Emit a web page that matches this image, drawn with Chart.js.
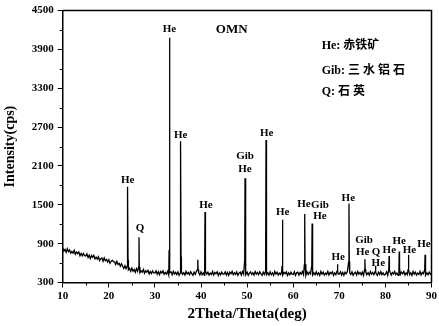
<!DOCTYPE html>
<html><head><meta charset="utf-8">
<script src="https://cdn.jsdelivr.net/npm/chart.js@4/dist/chart.umd.min.js"></script>
<style>html,body{margin:0;padding:0;background:#fff;overflow:hidden}</style>
</head><body>
<canvas id="c" width="439" height="326" style="width:439px;height:326px;display:block"></canvas>
<script>
// ---- data ----
const baseStart = 10, baseStep = 0.25;
const baseIntensity = [
835,785,811,766,822,777,803,753,779,754,795,735,771,746,772,712,748,713,749,714,
710,741,686,722,672,718,689,719,665,690,661,697,637,668,678,629,680,635,656,616,
652,597,627,643,623,618,578,626,579,595,552,588,550,516,558,515,552,495,518,475,
522,474,501,458,515,472,499,452,480,458,501,444,482,460,488,431,470,439,478,447,
446,480,429,468,422,471,445,479,428,457,431,471,415,450,464,419,473,433,457,422,
461,411,446,466,426,451,416,471,431,456,421,466,436,411,461,426,471,421,451,416,
465,420,450,410,470,430,460,415,445,425,470,415,455,435,465,410,450,420,460,430,
430,465,415,455,410,460,435,470,420,450,425,465,410,445,460,415,470,430,455,420,
460,410,445,465,425,450,415,470,430,455,420,465,435,410,460,425,470,420,450,415,
465,420,450,410,470,430,460,415,445,425,470,415,455,435,465,410,450,420,460,430,
425,465,410,450,460,415,455,430,470,420,445,410,465,425,460,435,470,415,450,420,
465,420,450,410,470,430,460,415,445,425,470,415,455,435,465,410,450,420,460,430,
430,465,415,455,410,460,435,470,420,450,425,465,410,445,460,415,470,430,455,420,
460,410,445,465,425,450,415,470,430,455,420,465,435,410,460,425,470,420,450,415,
425,465,410,450,460,415,455,430,470,420,445,410,465,425,460,435,470,415,450,420,
465,420,450,410,470,430,460,415,445,425,470,415,455,435,465,410,450,420,460,430,
440];
const peakTheta     = [24.1, 26.55, 33.15, 35.6, 39.3, 40.87, 49.55, 54.1, 57.65, 62.5, 64.1, 69.6, 72.1, 75.55, 77.85, 80.8, 83.0, 85.0, 88.6];
const peakIntensity = [1780, 1000, 4080, 2480, 650, 1390, 1910, 2500, 1270, 1360, 1210, 580, 1520, 660, 560, 710, 780, 730, 730];
const peakShoulder  = [650, 540, 800, 700, 500, 580, 650, 720, 560, 580, 560, 480, 620, 500, 470, 500, 520, 500, 500];

const xTickValues = [10, 20, 30, 40, 50, 60, 70, 80, 90];
const yTickValues = [300, 900, 1500, 2100, 2700, 3300, 3900, 4500];
const xMinorValues = [15, 25, 35, 45, 55, 65, 75, 85];
const yMinorValues = [600, 1200, 1800, 2400, 3000, 3600, 4200];

const labelText      = ["He","Q","He","He","He","Gib","He","He","He","He","Gib","He","He","He","Gib","He","Q","He","He","He","He","He"];
const labelTheta     = [24.1, 26.77, 33.15, 35.6, 41.08, 49.55, 49.55, 54.25, 57.7, 62.35, 65.8, 65.8, 71.95, 69.78, 75.36, 75.08, 77.96, 78.46, 80.85, 83.0, 85.2, 88.37];
const labelIntensity = [1880, 1132, 4206, 2578, 1494, 2247, 2053, 2603, 1392, 1509, 1499, 1331, 1610, 685, 949, 770, 770, 602, 796, 938, 796, 888];

const sampleName = "OMN";
const sampleTheta = 46.66, sampleIntensity = 4206;

const legendLines = ["He: 赤铁矿", "Gib: 三 水 铝 石", "Q: 石 英"];
const legendTheta = 66.18;
const legendIntensity = [3953, 3571, 3240];

// ---- build table ----
const pts = [];
for (let i = 0; i < baseIntensity.length; i++) {
  const x = baseStart + i * baseStep;
  if (peakTheta.some(c => Math.abs(x - c) < 0.1)) continue;
  pts.push({x: x, y: baseIntensity[i]});
}
peakTheta.forEach((c, i) => {
  pts.push({x: c - 0.07, y: peakShoulder[i]});
  pts.push({x: c, y: peakIntensity[i]});
  pts.push({x: c + 0.07, y: peakShoulder[i]});
});
pts.sort((a, b) => a.x - b.x);

const SERIF = '"Liberation Serif", "Times New Roman", "Noto Sans CJK SC", serif';
const tickFont = {family: SERIF, size: 11, weight: 'bold'};

const decor = {
  id: 'decor',
  afterDraw(chart) {
    const ctx = chart.ctx, a = chart.chartArea, xs = chart.scales.x, ys = chart.scales.y;
    ctx.save();
    ctx.strokeStyle = '#000'; ctx.lineWidth = 1.5;
    ctx.beginPath();
    ctx.moveTo(a.left, a.top); ctx.lineTo(a.right, a.top); ctx.lineTo(a.right, a.bottom);
    ctx.stroke();
    ctx.lineWidth = 1;
    ctx.beginPath();
    xMinorValues.forEach(v => { const px = Math.round(xs.getPixelForValue(v)) + 0.5; ctx.moveTo(px, a.bottom); ctx.lineTo(px, a.bottom + 3); });
    yMinorValues.forEach(v => { const py = Math.round(ys.getPixelForValue(v)) + 0.5; ctx.moveTo(a.left, py); ctx.lineTo(a.left - 3, py); });
    ctx.stroke();
    ctx.fillStyle = '#000';
    ctx.textAlign = 'center'; ctx.textBaseline = 'middle';
    ctx.font = 'bold 11px ' + SERIF;
    labelText.forEach((t, i) => ctx.fillText(t, xs.getPixelForValue(labelTheta[i]), ys.getPixelForValue(labelIntensity[i])));
    ctx.font = 'bold 13px ' + SERIF;
    ctx.fillText(sampleName, xs.getPixelForValue(sampleTheta), ys.getPixelForValue(sampleIntensity));
    ctx.textAlign = 'left';
    ctx.font = 'bold 12px ' + SERIF;
    legendLines.forEach((t, i) => ctx.fillText(t, xs.getPixelForValue(legendTheta), ys.getPixelForValue(legendIntensity[i])));
    ctx.restore();
  }
};

new Chart(document.getElementById('c'), {
  type: 'line',
  data: {datasets: [{data: pts, borderColor: '#000', borderWidth: 1.3, pointRadius: 0, tension: 0, fill: false}]},
  options: {
    responsive: false, animation: false,
    layout: {padding: {left: 0, right: 7, top: 7.5, bottom: 0}},
    plugins: {legend: {display: false}, tooltip: {enabled: false}},
    scales: {
      x: {
        type: 'linear', min: 10, max: 90,
        afterBuildTicks: s => { s.ticks = xTickValues.map(v => ({value: v})); },
        afterFit: s => { s.height = 43.5; },
        ticks: {font: tickFont, color: '#000', padding: 2, maxRotation: 0, autoSkip: false, callback: v => String(v)},
        grid: {drawOnChartArea: false, tickLength: 5, color: '#000', tickWidth: 1},
        border: {color: '#000', width: 1.5},
        title: {display: true, text: '2Theta/Theta(deg)', color: '#000', font: {family: SERIF, size: 15, weight: 'bold'}, padding: {top: 0, bottom: 3}}
      },
      y: {
        type: 'linear', min: 300, max: 4500,
        afterBuildTicks: s => { s.ticks = yTickValues.map(v => ({value: v})); },
        afterFit: s => { s.width = 62.7; },
        ticks: {font: tickFont, color: '#000', padding: 4, autoSkip: false, callback: v => String(v)},
        grid: {drawOnChartArea: false, tickLength: 5, color: '#000', tickWidth: 1},
        border: {color: '#000', width: 1.5},
        title: {display: true, text: 'Intensity(cps)', color: '#000', font: {family: SERIF, size: 14, weight: 'bold'}, padding: {top: 2, bottom: 0}}
      }
    }
  },
  plugins: [decor]
});
</script>
</body></html>
